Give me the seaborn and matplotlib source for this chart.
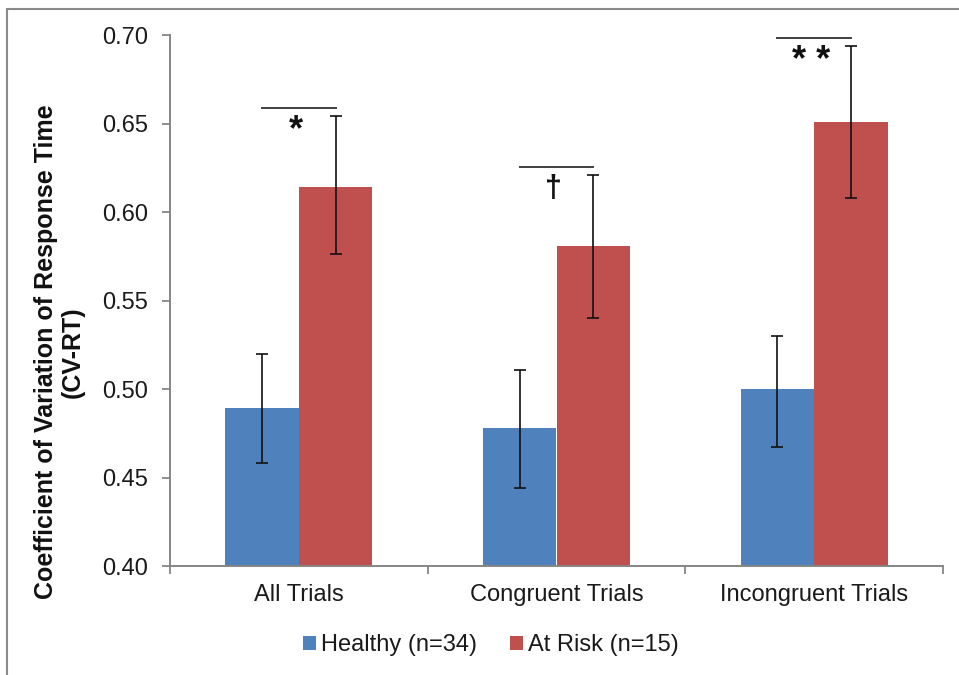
import matplotlib
matplotlib.use("Agg")
import matplotlib.pyplot as plt
from matplotlib.lines import Line2D
from matplotlib.patches import Patch
import seaborn as sns
import pandas as pd
import numpy as np

# ---- data ----
categories = ["All Trials", "Congruent Trials", "Incongruent Trials"]
groups = ["Healthy (n=34)", "At Risk (n=15)"]
healthy_mean = [0.489, 0.478, 0.500]
healthy_low = [0.458, 0.444, 0.467]
healthy_high = [0.520, 0.511, 0.530]
risk_mean = [0.614, 0.581, 0.651]
risk_low = [0.576, 0.540, 0.608]
risk_high = [0.654, 0.621, 0.694]
sig_labels = ["*", "\u2020", "* *"]
sig_line_y = [0.659, 0.6256, 0.6984]
sig_text_y = [0.646, 0.613, 0.685]
y_ticks = [0.40, 0.45, 0.50, 0.55, 0.60, 0.65, 0.70]

colors = ["#4F81BD", "#C0504D"]

df = pd.DataFrame({
    "Condition": categories * 2,
    "Group": [groups[0]] * 3 + [groups[1]] * 3,
    "CV": healthy_mean + risk_mean,
    "low": healthy_low + risk_low,
    "high": healthy_high + risk_high,
})

sns.set_style("white")
plt.rcParams["font.family"] = ["Liberation Sans", "DejaVu Sans"]

fig = plt.figure(figsize=(9.59, 6.75), dpi=100)
ax = fig.add_axes([170 / 959, 1 - 566 / 675, (943 - 170) / 959, (566 - 35) / 675])

sns.barplot(data=df, x="Condition", y="CV", hue="Group", order=categories,
            hue_order=groups, palette=colors, saturation=1, width=0.57,
            linewidth=0, errorbar=None, legend=False, ax=ax)

# error bars
for i, g in enumerate(groups):
    sub = df[df["Group"] == g].set_index("Condition").loc[categories]
    offs = (-0.5 + i) * 0.57 / 2
    xs = np.arange(len(categories)) + offs
    yerr = [sub["CV"] - sub["low"], sub["high"] - sub["CV"]]
    ax.errorbar(xs, sub["CV"], yerr=yerr, fmt="none", ecolor="#111111",
                elinewidth=1.2, capsize=4.5, capthick=1.2, zorder=5)

# significance markers
for i, (lab, ly, ty) in enumerate(zip(sig_labels, sig_line_y, sig_text_y)):
    ax.plot([i - 0.147, i + 0.147], [ly, ly], color="#404040", lw=1.4,
            solid_capstyle="butt", clip_on=False)
    fs = 22 if lab == "\u2020" else 26
    ax.text(i - 0.01, ty, lab, ha="center", va="center", fontsize=fs,
            fontweight="bold", color="#111111")

ax.set_xlim(-0.5, 2.5)
ax.set_ylim(0.40, 0.70)
ax.set_yticks(y_ticks)
ax.set_yticklabels([f"{v:.2f}" for v in y_ticks], fontsize=17, color="#1a1a1a")

ax.set_xticks([-0.5, 0.5, 1.5, 2.5])
ax.set_xticklabels([])
ax.set_xticks(np.arange(len(categories)), minor=True)
ax.set_xticklabels(categories, minor=True, fontsize=17, color="#1a1a1a")
ax.tick_params(axis="x", which="major", direction="out", length=6, width=1.3,
               color="#868686", bottom=True)
ax.tick_params(axis="x", which="minor", length=0, pad=13)
ax.tick_params(axis="y", direction="out", length=6, width=1.3, color="#868686",
               left=True, pad=10)

for s in ["top", "right"]:
    ax.spines[s].set_visible(False)
for s in ["left", "bottom"]:
    ax.spines[s].set_color("#868686")
    ax.spines[s].set_linewidth(1.4)

ax.set_xlabel("")
ax.set_ylabel("Coefficient of Variation of Response Time\n(CV-RT)", fontsize=18,
              fontweight="bold", color="#111111", linespacing=1.15)
ax.yaxis.set_label_coords(-0.110, (566 - 352) / 531)

handles = [Patch(facecolor=c, edgecolor="none") for c in colors]
fig.legend(handles, groups, loc="center", bbox_to_anchor=(491 / 959, 1 - 645 / 675),
           ncol=2, frameon=False, fontsize=17, handlelength=0.55, handleheight=0.55,
           handletextpad=0.2, columnspacing=1.4, labelcolor="#1a1a1a")

# outer frame
fig.add_artist(Line2D([7 / 959, 7 / 959], [0, 1 - 9 / 675], transform=fig.transFigure,
                      color="#8a8a8a", lw=1.5))
fig.add_artist(Line2D([7 / 959, 1], [1 - 9 / 675, 1 - 9 / 675], transform=fig.transFigure,
                      color="#8a8a8a", lw=1.5))

fig.savefig("out.png", dpi=100)
